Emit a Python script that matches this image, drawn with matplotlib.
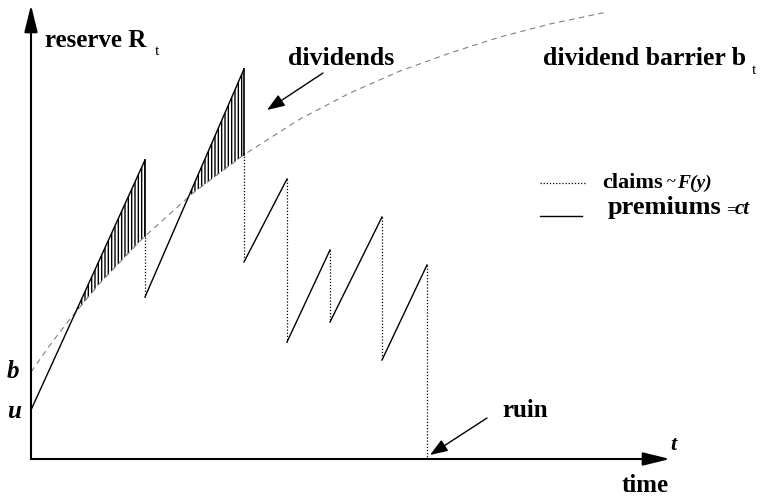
import matplotlib.pyplot as plt
import numpy as np

plt.rcParams['font.family'] = ['Liberation Serif', 'DejaVu Serif']
plt.rcParams['hatch.linewidth'] = 1.0

# dividend barrier b_t (time, level)
barrier_t = [0, 19, 39, 69, 112, 162, 214, 269, 319, 369, 419, 469, 519, 576]
barrier_r = [87, 114, 140, 176, 221, 266, 305, 340, 366, 388, 406, 422, 435, 447]

# premium segments: start and end of each rising piece
premium_t0 = [0, 114, 213, 256, 299, 351]
premium_r0 = [49, 162, 197, 117, 137, 99]
premium_t1 = [114, 213, 256, 299, 351, 396]
premium_r1 = [299, 390, 280, 209, 242, 194]

# claims: jump times, level before and after the jump
claim_t = [114, 213, 256, 299, 351, 396]
claim_before = [222, 306, 280, 209, 242, 194]
claim_after = [162, 197, 117, 137, 99, 0]

u_level = 49
b_level = 87

fig = plt.figure(figsize=(7.64, 4.99), dpi=100)
ax = fig.add_axes([0, 0, 1, 1])
ax.set_xlim(-31, 733)
ax.set_ylim(-40, 459)
ax.axis('off')

# axes with arrows
arrow = dict(arrowstyle='-|>,head_length=1.1,head_width=0.27', mutation_scale=15,
             lw=1.5, color='black', shrinkA=0, shrinkB=0)
ax.annotate('', xy=(0, 454), xytext=(0, 0), arrowprops=arrow)
ax.annotate('', xy=(639, 0), xytext=(0, 0), arrowprops=arrow)

# barrier
ax.plot(barrier_t, barrier_r, color='#808080', lw=0.8, dashes=(5, 4))

# premiums and dividend hatching
for t0, r0, t1, r1 in zip(premium_t0, premium_r0, premium_t1, premium_r1):
    ax.plot([t0, t1], [r0, r1], color='black', lw=1.0)
    tt = np.linspace(t0, t1, 300)
    path = np.interp(tt, [t0, t1], [r0, r1])
    bar = np.interp(tt, barrier_t, barrier_r)
    ax.fill_between(tt, bar, path, where=path >= bar, interpolate=True,
                    facecolor='none', edgecolor='black', hatch='|||||', linewidth=0)

# dividend edges (path above barrier at claim time)
for t, r in zip(premium_t1, premium_r1):
    b_here = np.interp(t, barrier_t, barrier_r)
    if r > b_here:
        ax.plot([t, t], [b_here, r], color='black', lw=1.2)

# claims
for t, r0, r1 in zip(claim_t, claim_before, claim_after):
    ax.plot([t, t], [r0, r1], color='black', lw=0.9, linestyle=(0, (1, 1.5)))

# annotation arrows
small = dict(arrowstyle='-|>,head_length=0.9,head_width=0.33', mutation_scale=12,
             lw=1.0, color='black', shrinkA=0, shrinkB=0)
ax.annotate('', xy=(236, 349), xytext=(292, 386), arrowprops=small)
ax.annotate('', xy=(399, 4), xytext=(456, 41), arrowprops=small)

# legend samples
ax.plot([509, 554], [276, 276], color='black', lw=0.9, linestyle=(0, (1, 1.5)))
ax.plot([509, 551], [243, 243], color='black', lw=1.0)

# texts
bold = dict(fontweight='bold', va='baseline', ha='left')
ax.text(14, 412, 'reserve R', fontsize=18, **bold)
ax.text(124, 404, 't', fontsize=11, va='baseline', ha='left')
ax.text(257, 394, 'dividends', fontsize=18.5, **bold)
ax.text(512, 394, 'dividend barrier b', fontsize=18.5, **bold)
ax.text(721, 385, 't', fontsize=11, va='baseline', ha='left')
ax.text(571, 271, 'claims', fontsize=16, **bold)
ax.text(636, 273, '~', fontsize=12, **bold)
ax.text(646, 271, 'F(y)', fontsize=14, fontstyle='italic', **bold)
ax.text(577, 245, 'premiums', fontsize=19, **bold)
ax.text(695, 245, '=', fontsize=12, **bold)
ax.text(704, 245, 'ct', fontsize=15, fontstyle='italic', **bold)
ax.text(-24, b_level - 6, 'b', fontsize=18, fontstyle='italic', **bold)
ax.text(-24, u_level - 8, 'u', fontsize=18, fontstyle='italic', **bold)
ax.text(471, 42, 'ruin', fontsize=18, **bold)
ax.text(639, 9, 't', fontsize=16, fontstyle='italic', **bold)
ax.text(591, -33, 'time', fontsize=18, **bold)

fig.savefig('out.png', dpi=100)
